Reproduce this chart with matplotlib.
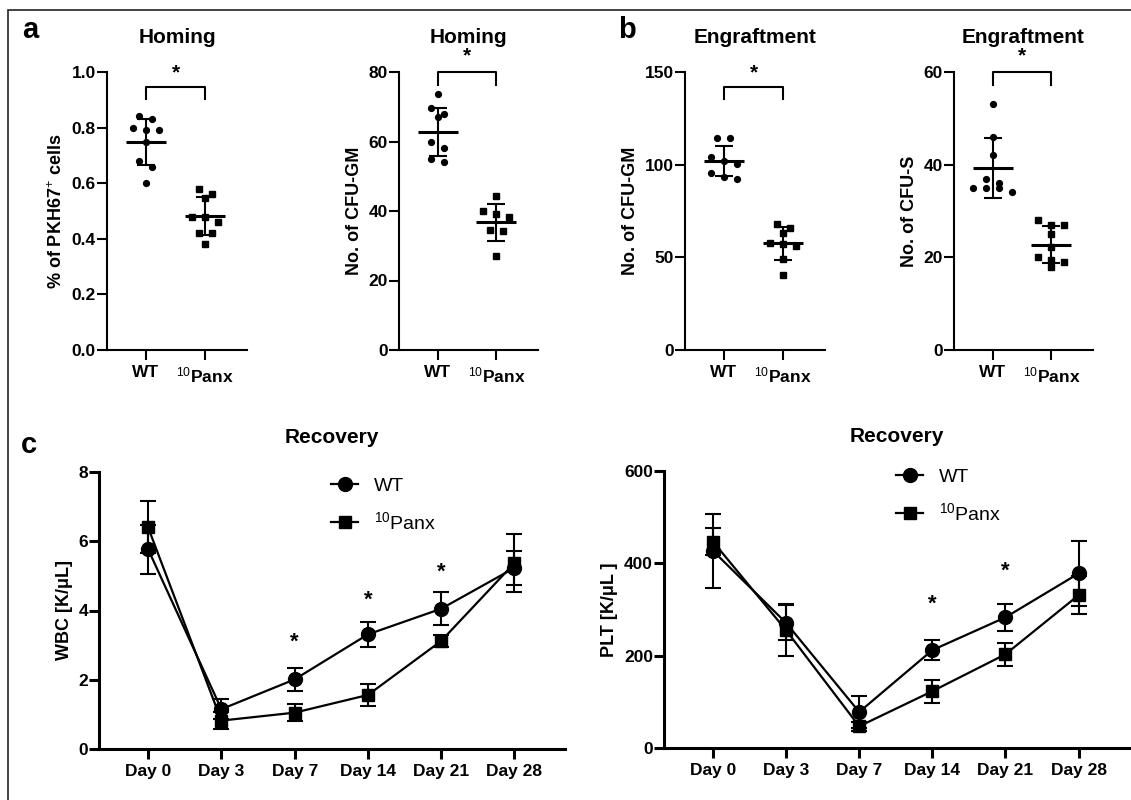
import numpy as np
import matplotlib
matplotlib.use("Agg")
import matplotlib.pyplot as plt
from matplotlib.patches import Rectangle

plt.rcParams['font.family'] = ['Liberation Sans', 'DejaVu Sans']
plt.rcParams['mathtext.fontset'] = 'custom'
plt.rcParams['mathtext.rm'] = 'Liberation Sans'
plt.rcParams['mathtext.default'] = 'rm'

# ---- data ----
groups = ['WT', r'$^{10}$Panx']

# a: homing, % PKH67+ cells
pkh_wt = [0.84, 0.83, 0.80, 0.79, 0.79, 0.75, 0.68, 0.66, 0.60]
pkh_panx = [0.58, 0.56, 0.545, 0.48, 0.48, 0.46, 0.42, 0.42, 0.38]
pkh_mean = [0.747, 0.482]
pkh_sd = [0.083, 0.068]

# a: homing, CFU-GM
hcfu_wt = [73.7, 69.5, 68.0, 67.0, 60.0, 58.0, 55.0, 54.0]
hcfu_panx = [44.4, 40.1, 39.1, 38.2, 34.5, 34.3, 27.1]
hcfu_mean = [62.8, 36.7]
hcfu_sd = [6.9, 5.3]

# b: engraftment, CFU-GM
ecfu_wt = [114.2, 114.2, 104.3, 102.0, 100.2, 95.3, 93.5, 92.1]
ecfu_panx = [68.0, 66.0, 63.0, 58.0, 57.0, 56.0, 49.0, 40.5]
ecfu_mean = [101.8, 57.6]
ecfu_sd = [8.1, 9.0]

# b: engraftment, CFU-S
cfus_wt = [53, 46, 42, 37, 36, 35, 35, 35, 34]
cfus_panx = [28, 27, 27, 25, 22.3, 20, 19.5, 19, 18]
cfus_mean = [39.2, 22.7]
cfus_sd = [6.5, 4.0]

# c: recovery
days = ['Day 0', 'Day 3', 'Day 7', 'Day 14', 'Day 21', 'Day 28']
wbc_wt = [5.77, 1.15, 2.01, 3.31, 4.05, 5.23]
wbc_wt_sd = [0.71, 0.29, 0.34, 0.36, 0.47, 0.50]
wbc_panx = [6.40, 0.82, 1.05, 1.56, 3.12, 5.37]
wbc_panx_sd = [0.75, 0.24, 0.24, 0.31, 0.17, 0.85]
wbc_sig = [2, 3, 4]
wbc_sig_y = [3.09, 4.29, 5.10]

plt_wt = [427, 271, 78, 212, 283, 378]
plt_wt_sd = [80, 38, 34, 22, 29, 70]
plt_panx = [447, 255, 47, 123, 203, 331]
plt_panx_sd = [30, 56, 10, 25, 25, 41]
plt_sig = [3, 4]
plt_sig_y = [311, 384]


W, H = 1131, 800
fig = plt.figure(figsize=(W / 100, H / 100), dpi=100)


def box(x0, x1, ytop, ybot):
    # pixel box -> figure fraction
    return [x0 / W, 1 - ybot / H, (x1 - x0) / W, (ybot - ytop) / H]


def spread(vals, thr, step=0.22):
    # GraphPad-like scatter: points at similar height are spread sideways
    order = np.argsort(vals)[::-1]
    offs = np.zeros(len(vals))
    grp = []
    for i in order:
        if grp and vals[grp[0]] - vals[i] > thr:
            n = len(grp)
            for k, j in enumerate(grp):
                offs[j] = (k - (n - 1) / 2) * step
            grp = []
        grp.append(i)
    n = len(grp)
    for k, j in enumerate(grp):
        offs[j] = (k - (n - 1) / 2) * step
    return offs


def style_axes(ax, lw, fs):
    for s in ['top', 'right']:
        ax.spines[s].set_visible(False)
    for s in ['left', 'bottom']:
        ax.spines[s].set_linewidth(lw)
    ax.tick_params(width=lw, length=7, labelsize=fs)
    ax.tick_params(axis='y', pad=1)
    ax.tick_params(axis='x', pad=4)
    for lab in ax.get_xticklabels() + ax.get_yticklabels():
        lab.set_fontweight('bold')


def scatter_panel(rect, wt, panx, mean, sd, ymax, yticks, ylabel, title, br_y, br_drop, star_y):
    ax = fig.add_axes(rect)
    thr = ymax * 8 / 278
    for x, vals, mk in [(0, wt, 'o'), (1, panx, 's')]:
        vals = np.asarray(vals, float)
        ax.plot(x + spread(vals, thr), vals, mk, color='black', ms=4.2 if mk == 'o' else 4.6,
                clip_on=False, zorder=3)
    ax.hlines(mean, np.arange(2) - 0.34, np.arange(2) + 0.34, color='black', lw=2.2, zorder=4)
    ax.errorbar(np.arange(2), mean, yerr=sd, fmt='none', ecolor='black', elinewidth=1.5,
                capsize=6.5, capthick=1.5, zorder=4)
    ax.set_xlim(-0.66, 1.71)
    ax.set_ylim(0, ymax)
    ax.set_yticks(yticks)
    ax.set_xticks([0, 1])
    ax.set_xticklabels(groups)
    ax.set_ylabel(ylabel, fontsize=13, fontweight='bold', labelpad=4)
    ax.set_title(title, fontsize=15, fontweight='bold', pad=21)
    # significance bracket
    ax.plot([0, 0, 1, 1], [br_y - br_drop, br_y, br_y, br_y - br_drop], color='black', lw=1.5,
            clip_on=False)
    ax.text(0.5, star_y, '*', ha='center', va='center', fontsize=15, fontweight='bold',
            clip_on=False)
    style_axes(ax, 1.5, 12.5)
    return ax


ax = scatter_panel(box(107, 247, 72, 350), pkh_wt, pkh_panx, pkh_mean, pkh_sd, 1.0,
                   [0, 0.2, 0.4, 0.6, 0.8, 1.0], r'% of PKH67$^{+}$ cells', 'Homing',
                   0.945, 0.042, 0.995)
ax.set_yticklabels(['0.0', '0.2', '0.4', '0.6', '0.8', '1.0'], fontweight='bold')
scatter_panel(box(399, 538, 72, 350), hcfu_wt, hcfu_panx, hcfu_mean, hcfu_sd, 80,
              [0, 20, 40, 60, 80], 'No. of CFU-GM', 'Homing', 80, 3.6, 84.5)
scatter_panel(box(685, 825, 72, 350), ecfu_wt, ecfu_panx, ecfu_mean, ecfu_sd, 150,
              [0, 50, 100, 150], 'No. of CFU-GM', 'Engraftment', 141.7, 6.4, 149.5)
scatter_panel(box(954, 1093, 72, 350), cfus_wt, cfus_panx, cfus_mean, cfus_sd, 60,
              [0, 20, 40, 60], 'No. of CFU-S', 'Engraftment', 60, 2.7, 63.5)


def recovery_panel(rect, wt, wt_sd, panx, panx_sd, ymax, yticks, ylabel, sig, sig_y, leg_xy):
    ax = fig.add_axes(rect)
    x = np.arange(len(days))
    ax.errorbar(x, wt, yerr=wt_sd, fmt='none', ecolor='black', elinewidth=1.5,
                capsize=5.5, capthick=1.5, clip_on=False)
    ax.errorbar(x, panx, yerr=panx_sd, fmt='none', ecolor='black', elinewidth=1.5,
                capsize=5.5, capthick=1.5, clip_on=False)
    ax.plot(x, wt, '-o', color='black', lw=1.6, ms=10, label='WT', clip_on=False, zorder=3)
    ax.plot(x, panx, '-s', color='black', lw=1.6, ms=9, label=r'$^{10}$Panx', clip_on=False,
            zorder=3)
    for i, y in zip(sig, sig_y):
        ax.text(x[i], y, '*', ha='center', va='center', fontsize=16, fontweight='bold')
    ax.set_xlim(-0.67, 5.69)
    ax.set_ylim(0, ymax)
    ax.set_yticks(yticks)
    ax.set_xticks(x)
    ax.set_xticklabels(days)
    ax.set_ylabel(ylabel, fontsize=13, fontweight='bold', labelpad=4)
    ax.set_title('Recovery', fontsize=15, fontweight='bold', pad=21)
    style_axes(ax, 2.2, 12.5)
    ax.legend(loc='center left', bbox_to_anchor=(leg_xy[0] / W, 1 - leg_xy[1] / H),
              bbox_transform=fig.transFigure, frameon=False, fontsize=14, handlelength=1.4,
              handletextpad=0.8, labelspacing=0.85, borderpad=0, borderaxespad=0, numpoints=1)
    return ax


recovery_panel(box(99, 565, 472, 749), wbc_wt, wbc_wt_sd, wbc_panx, wbc_panx_sd, 8,
               [0, 2, 4, 6, 8], r'WBC [K/μL]', wbc_sig, wbc_sig_y, (331, 505))
recovery_panel(box(664, 1129, 471, 748), plt_wt, plt_wt_sd, plt_panx, plt_panx_sd, 600,
               [0, 200, 400, 600], r'PLT [K/μL ]', plt_sig, plt_sig_y, (896, 496))

# panel letters
for lab, x, y in [('a', 30, 30), ('b', 627, 30), ('c', 29, 445)]:
    fig.text(x / W, 1 - y / H, lab, fontsize=21, fontweight='bold', ha='center', va='center')

# outer frame (only top and left edges fall inside the image)
fig.patches.append(Rectangle((8 / W, -0.05), 1.2, 1 - 10 / H + 0.05, transform=fig.transFigure,
                             fill=False, edgecolor='#222222', lw=1.2))

fig.savefig('out.png', dpi=100)
